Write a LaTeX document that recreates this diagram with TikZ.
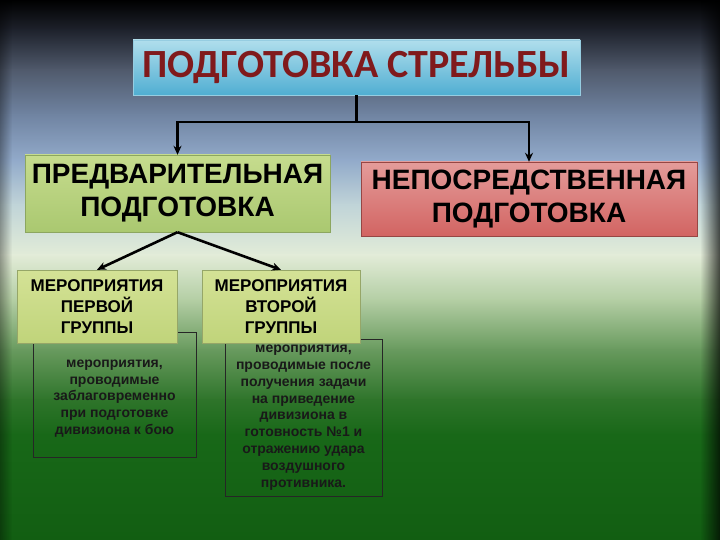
\documentclass[tikz,border=0pt]{standalone}
\usepackage{fontspec}
\setmainfont{Liberation Sans}
\newfontfamily\titlefont{Carlito}
\usetikzlibrary{arrows.meta,fadings}

% background colours, top to bottom
\definecolor{bg0}{RGB}{0,0,0}
\definecolor{bg1}{RGB}{30,34,44}
\definecolor{bg2}{RGB}{80,90,108}
\definecolor{bg3}{RGB}{112,132,162}
\definecolor{bg4}{RGB}{146,170,202}
\definecolor{bg5}{RGB}{192,212,216}
\definecolor{bg6}{RGB}{226,236,216}
\definecolor{bg7}{RGB}{180,206,164}
\definecolor{bg8}{RGB}{104,154,94}
\definecolor{bg9}{RGB}{46,116,42}
\definecolor{bg10}{RGB}{24,104,24}
\definecolor{bg11}{RGB}{18,94,18}

% boxes
\definecolor{titletop}{RGB}{176,222,236}
\definecolor{titlemid}{RGB}{132,200,224}
\definecolor{titlebot}{RGB}{80,174,210}
\definecolor{titleedge}{RGB}{150,205,225}
\definecolor{titletext}{RGB}{128,26,28}
\definecolor{predtop}{RGB}{198,220,142}
\definecolor{predbot}{RGB}{170,200,112}
\definecolor{prededge}{RGB}{140,166,96}
\definecolor{dirtop}{RGB}{228,156,154}
\definecolor{dirbot}{RGB}{210,100,98}
\definecolor{diredge}{RGB}{150,70,68}
\definecolor{grptop}{RGB}{212,226,150}
\definecolor{grpbot}{RGB}{192,212,122}
\definecolor{grpedge}{RGB}{150,166,104}

\tikzset{
  titlebox/.style={draw=titleedge, top color=titletop, middle color=titlemid,
    bottom color=titlebot, minimum width=447pt, minimum height=55pt, inner sep=0pt,
    text=titletext, font=\titlefont\bfseries\fontsize{40}{40}\selectfont},
  stagebox/.style={minimum width=305pt, minimum height=77pt, inner sep=0pt,
    align=center, font=\bfseries\fontsize{28}{33}\selectfont},
  groupbox/.style={draw=grpedge, top color=grptop, bottom color=grpbot,
    minimum width=160pt, minimum height=73pt, inner sep=0pt, align=center,
    font=\bfseries\fontsize{17}{21}\selectfont},
  notebox/.style={draw=black!85, line width=0.9pt, inner sep=0pt, align=center,
    text=black!90, font=\bfseries\fontsize{14}{16.8}\selectfont},
  connector/.style={->, line width=2.6pt, black}
}

\begin{document}
\begin{tikzpicture}[x=1pt, y=-1pt, >={Stealth[length=9pt, width=8pt]}]

    \useasboundingbox (0,0) rectangle (720,540);

    % Background
    \foreach \ya/\yb/\ca/\cb in {0/30/bg0/bg1, 30/70/bg1/bg2, 70/115/bg2/bg3,
        115/160/bg3/bg4, 160/205/bg4/bg5, 205/255/bg5/bg6, 255/300/bg6/bg7,
        300/350/bg7/bg8, 350/400/bg8/bg9, 400/435/bg9/bg10, 435/540/bg10/bg11}
        \shade[top color=\ca, bottom color=\cb] (0,\ya-0.4) rectangle (720,\yb+0.4);
    \fill[black, path fading=west, opacity=0.7] (700,0) rectangle (720,540);
    \fill[black, path fading=east, opacity=0.35] (0,0) rectangle (12,540);

    % Notes (behind the group boxes)
    \node[notebox, minimum width=163pt, minimum height=125pt] (note1) at (114.5,394.5) {};
    \node[notebox, draw=none] (note1text) at (114.5,398.5)
        {мероприятия,\\проводимые\\заблаговременно\\при подготовке\\дивизиона к бою};
    \node[notebox, minimum width=157pt, minimum height=157pt] (note2) at (303.5,417.5)
        {мероприятия,\\проводимые после\\получения задачи\\на приведение\\дивизиона в\\готовность №1 и\\отражению удара\\воздушного\\противника.};

    % Title
    \node[titlebox] (title) at (356.5,67.5) {ПОДГОТОВКА СТРЕЛЬБЫ};

    % Two kinds of preparation
    \node[stagebox, draw=prededge, top color=predtop, bottom color=predbot] (pred)
        at (177.5,193.5) {ПРЕДВАРИТЕЛЬНАЯ\\ПОДГОТОВКА};
    \node[stagebox, draw=diredge, top color=dirtop, bottom color=dirbot,
        minimum width=336pt, minimum height=74pt] (direct)
        at (529,199) {НЕПОСРЕДСТВЕННАЯ\\ПОДГОТОВКА};

    % Groups of measures
    \node[groupbox] (group1) at (97,306.5) {МЕРОПРИЯТИЯ\\ПЕРВОЙ\\ГРУППЫ};
    \node[groupbox, minimum width=158pt] (group2) at (281,306.5) {МЕРОПРИЯТИЯ\\ВТОРОЙ\\ГРУППЫ};

    % Connectors
    \draw[line width=2.6pt] (title.south) -- ++(0,27) coordinate (split);
    \draw[connector] (split) -| (pred.north);
    \draw[connector] (split) -| (direct.north);
    \draw[connector] (pred.south) -- (group1.north);
    \draw[connector] (pred.south) -- (group2.north);

\end{tikzpicture}
\end{document}
